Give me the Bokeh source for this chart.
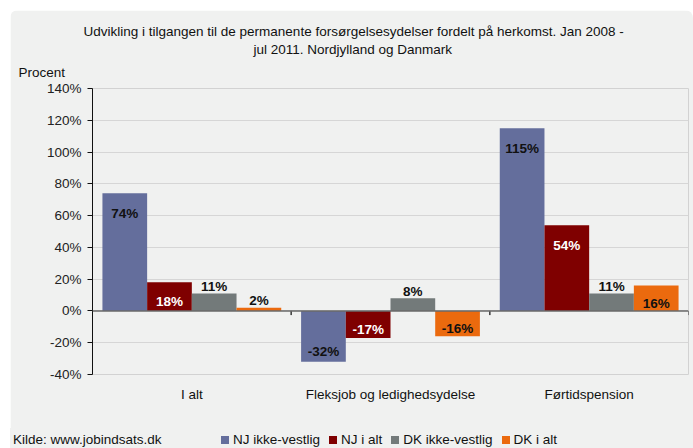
from bokeh.plotting import figure
from bokeh.models import (ColumnDataSource, FactorRange, Range1d, FixedTicker,
                          PrintfTickFormatter, Span, Title, Div)
from bokeh.layouts import column
from bokeh.transform import dodge
from bokeh.core.properties import value
from bokeh.embed import file_html
from bokeh.resources import INLINE

# ---------------- data ----------------
categories = ["I alt", "Fleksjob og ledighedsydelse", "Førtidspension"]
series_names = ["NJ ikke-vestlig", "NJ i alt", "DK ikke-vestlig", "DK i alt"]
nj_ikke_vestlig = [74, -32, 115]
nj_i_alt = [18, -17, 54]
dk_ikke_vestlig = [11, 8, 11]
dk_i_alt = [2, -16, 16]
y_ticks = [-40, -20, 0, 20, 40, 60, 80, 100, 120, 140]
title_line_1 = "Udvikling i tilgangen til de permanente forsørgelsesydelser fordelt på herkomst. Jan 2008 -"
title_line_2 = "jul 2011. Nordjylland og Danmark"
y_unit_label = "Procent"
source_note = "Kilde: www.jobindsats.dk"

series_values = [nj_ikke_vestlig, nj_i_alt, dk_ikke_vestlig, dk_i_alt]
colors = ["#646E9C", "#7F0000", "#737A7A", "#EB6A0E"]
label_colors = ["#111111", "#FFFFFF", "#111111", "#111111"]

FONT = "Liberation Sans"
FS = "13.5px"
BG = "#F0F1F0"
TXT = "#111111"
W = 683
H_MAIN, H_FOOT = 418, 20

# ---------------- main chart ----------------
p = figure(width=W, height=H_MAIN, output_backend="svg", toolbar_location=None,
           x_range=FactorRange(factors=categories, range_padding=0),
           y_range=Range1d(-40, 140), margin=(10, 0, 0, 10),
           styles={"border-radius": "8px 8px 0 0", "overflow": "hidden"},
           min_border_left=82, min_border_right=5, min_border_top=78, min_border_bottom=54)
p.background_fill_color = BG
p.border_fill_color = BG
p.outline_line_color = "#D2D2D2"

bar_w = 0.225
for i, (name, vals) in enumerate(zip(series_names, series_values)):
    off = (i - 1.5) * bar_w
    ly, yoff, txt = [], [], []
    for v in vals:
        txt.append(f"{v}%")
        if abs(v) < 12:          # label outside the bar end
            ly.append(v); yoff.append(-7 if v >= 0 else 16)
        elif abs(v) < 25:        # centered inside short bar
            ly.append(v / 2); yoff.append(5)
        elif v > 0:              # inside near top
            ly.append(v); yoff.append(20)
        else:                    # inside near bottom
            ly.append(v); yoff.append(-10)
    src = ColumnDataSource(dict(cat=categories, val=vals, ly=ly, yoff=yoff, txt=txt))
    p.vbar(x=dodge("cat", off, range=p.x_range), top="val", bottom=0, width=bar_w,
           fill_color=colors[i], line_color=None, source=src)
    p.text(x=dodge("cat", off, range=p.x_range), y="ly", text="txt", y_offset="yoff",
           text_baseline="alphabetic", text_align="center", text_font=value(FONT),
           text_font_style="bold", text_font_size=FS, text_color=label_colors[i], source=src)

# zero line and category boundary ticks
p.add_layout(Span(location=0, dimension="width", line_color="#6A6A6A", line_width=1.6))
tick_src = ColumnDataSource(dict(cat=categories, y0=[0] * len(categories), y1=[-2.6] * len(categories)))
for off in (-0.5, 0.5):
    p.segment(x0=dodge("cat", off, range=p.x_range), x1=dodge("cat", off, range=p.x_range),
              y0="y0", y1="y1", line_color="#333333", line_width=1, source=tick_src)

# axes
p.xgrid.grid_line_color = None
p.ygrid.grid_line_color = "#D6D6D6"
p.ygrid.grid_line_width = 1
p.yaxis.ticker = FixedTicker(ticks=y_ticks)
p.yaxis.formatter = PrintfTickFormatter(format="%d%%")
p.yaxis.axis_line_color = TXT
p.yaxis.major_tick_line_color = TXT
p.yaxis.major_tick_out = 5
p.yaxis.major_tick_in = 0
p.yaxis.minor_tick_line_color = None
p.yaxis.major_label_standoff = 6
p.yaxis.major_label_text_font = FONT
p.yaxis.major_label_text_font_size = FS
p.yaxis.major_label_text_color = "#222222"

p.xaxis.axis_line_color = None
p.xaxis.major_tick_line_color = None
p.xaxis.minor_tick_line_color = None
p.xaxis.major_tick_out = 0
p.xaxis.major_tick_in = 0
p.xaxis.major_label_standoff = 12
p.xaxis.major_label_text_font = FONT
p.xaxis.major_label_text_font_size = FS
p.xaxis.major_label_text_color = TXT

# titles in the top panel (first added = nearest the frame)
def make_title(text, offset, standoff, valign):
    return Title(text=text, align="left", offset=offset, standoff=standoff,
                 vertical_align=valign, text_font=FONT, text_font_size=FS,
                 text_font_style="normal", text_color=TXT)

p.add_layout(make_title(y_unit_label, -74, 15, "middle"), "above")
p.add_layout(make_title(title_line_2, 161, 0, "bottom"), "above")
p.add_layout(make_title(title_line_1, -9, 2, "bottom"), "above")

# ---------------- footer row: source note + legend ----------------
swatch_html = "".join(
    f'<span style="display:inline-block;width:8px;height:8px;background:{c};margin-right:4px;"></span>'
    f'<span style="margin-right:9px;">{n}</span>'
    for n, c in zip(series_names, colors))
footer_html = (
    f'<div style="position:relative;width:{W}px;height:{H_FOOT}px;font-family:\'{FONT}\';'
    f'font-size:{FS};color:{TXT};">'
    f'<span style="position:absolute;left:3px;top:4px;line-height:16px;white-space:nowrap;">{source_note}</span>'
    f'<span style="position:absolute;left:211px;top:4px;line-height:16px;white-space:nowrap;'
    f'display:flex;align-items:center;">{swatch_html}</span></div>'
)
footer = Div(text=footer_html, width=W, height=H_FOOT, margin=(0, 0, 0, 10),
             styles={"background-color": BG})

open("out.html", "w").write(file_html(column(p, footer, spacing=0), INLINE))
